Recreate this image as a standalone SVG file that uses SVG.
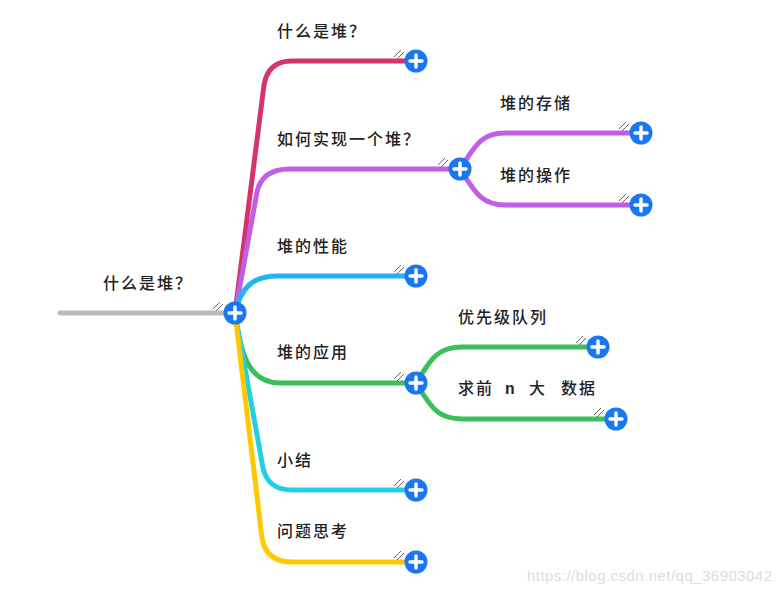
<svg xmlns="http://www.w3.org/2000/svg" width="780" height="592" viewBox="0 0 780 592">
<style>
.t{font-family:"Noto Sans CJK SC","Noto Sans CJK JP",sans-serif;font-size:16px;fill:#222;letter-spacing:2px;font-weight:500}
.m{font-family:"Liberation Mono",monospace;font-weight:bold}
.c{fill:none;stroke-width:5;stroke-linecap:round}
.pc{fill:#1877f2}
.pl{stroke:#fff;stroke-width:3.5;stroke-linecap:round}
.h{stroke:#666;stroke-width:1}
.wm{font-family:"Liberation Sans",Arial,sans-serif;font-size:15px;fill:#dcdcdc}
</style>
<defs>
<g id="plus">
<line class="h" x1="-22" y1="-4" x2="-15" y2="-11"/>
<line class="h" x1="-19" y1="-2" x2="-12" y2="-9"/>
<circle class="pc" r="11.5"/>
<line class="pl" x1="-6" y1="0" x2="6" y2="0"/>
<line class="pl" x1="0" y1="-6" x2="0" y2="6"/>
</g>
</defs>
<rect width="780" height="592" fill="#fff"/>
<g id="connectors">
<path class="c" stroke="#bbbbbb" d="M60,313 H235"/>
<path class="c" stroke="#d6336c" d="M235,313 L264,85 Q268,61 292,61 H416"/>
<path class="c" stroke="#c25de8" d="M235,313 L257,192 Q262,169 290,169 H460"/>
<path class="c" stroke="#c25de8" d="M460,169 C474,148 480,133 505,133 H641"/>
<path class="c" stroke="#c25de8" d="M460,169 C474,190 480,205 505,205 H641"/>
<path class="c" stroke="#22b4f0" d="M235,313 C241,287 253,276 278,276 H416"/>
<path class="c" stroke="#3cbe5a" d="M235,313 C241,362 253,383 280,383 H416"/>
<path class="c" stroke="#3cbe5a" d="M416,383 C430,361 436,347 462,347 H598"/>
<path class="c" stroke="#3cbe5a" d="M416,383 C430,405 436,419 462,419 H616"/>
<path class="c" stroke="#22d0e2" d="M235,313 L263,468 Q268,490 292,490 H416"/>
<path class="c" stroke="#ffc800" d="M235,313 L262,538 Q266,562 292,562 H416"/>
</g>
<g id="root"><text class="t" x="103" y="289">什么是堆？</text><use href="#plus" x="235" y="313"/></g>
<g id="n1"><text class="t" x="277" y="37">什么是堆？</text><use href="#plus" x="416" y="61"/></g>
<g id="n2"><text class="t" x="277" y="145">如何实现一个堆？</text><use href="#plus" x="460" y="169"/></g>
<g id="n2a"><text class="t" x="500" y="109">堆的存储</text><use href="#plus" x="641" y="133"/></g>
<g id="n2b"><text class="t" x="500" y="181">堆的操作</text><use href="#plus" x="641" y="205"/></g>
<g id="n3"><text class="t" x="277" y="252">堆的性能</text><use href="#plus" x="416" y="276"/></g>
<g id="n4"><text class="t" x="277" y="358">堆的应用</text><use href="#plus" x="416" y="383"/></g>
<g id="n4a"><text class="t" x="458" y="323">优先级队列</text><use href="#plus" x="598" y="347"/></g>
<g id="n4b"><text class="t" x="458" y="394">求前<tspan class="m" x="505">n</tspan><tspan x="529">大</tspan><tspan x="561">数据</tspan></text><use href="#plus" x="616" y="419"/></g>
<g id="n5"><text class="t" x="277" y="466">小结</text><use href="#plus" x="416" y="490"/></g>
<g id="n6"><text class="t" x="277" y="537">问题思考</text><use href="#plus" x="416" y="562"/></g>
<text class="wm" x="527" y="581" textLength="245">https://blog.csdn.net/qq_36903042</text>
</svg>
